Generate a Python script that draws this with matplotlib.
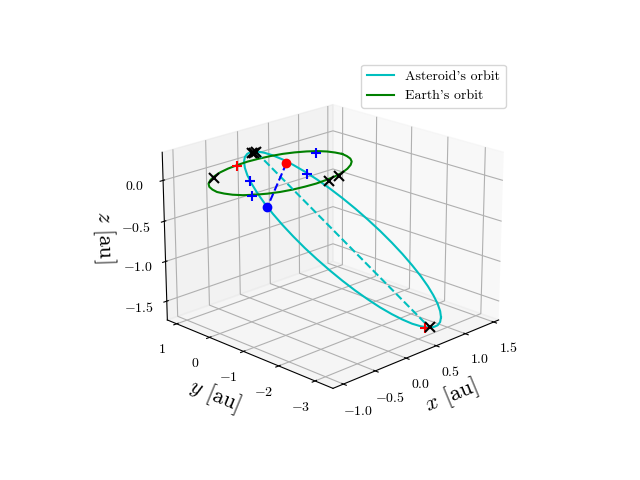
# asteroid and earth orbits in 3d
import matplotlib
matplotlib.use('Agg')
import matplotlib.pyplot as plt

plt.rcParams['font.family'] = ['cmr10', 'DejaVu Sans']
plt.rcParams['mathtext.fontset'] = 'cm'
plt.rcParams['axes.formatter.use_mathtext'] = True

earth_x = [1.0, 0.98, 0.94, 0.87, 0.77, 0.64, 0.5, 0.34, 0.17, 0.0, -0.17, -0.34, -0.5, -0.64, -0.77, -0.87, -0.94, -0.98, -1.0, -0.98, -0.94, -0.87, -0.77, -0.64, -0.5, -0.34, -0.17, 0.0, 0.17, 0.34, 0.5, 0.64, 0.77, 0.87, 0.94, 0.98, 1.0]
earth_y = [0.0, 0.17, 0.34, 0.5, 0.64, 0.77, 0.87, 0.94, 0.98, 1.0, 0.98, 0.94, 0.87, 0.77, 0.64, 0.5, 0.34, 0.17, 0.0, -0.17, -0.34, -0.5, -0.64, -0.77, -0.87, -0.94, -0.98, -1.0, -0.98, -0.94, -0.87, -0.77, -0.64, -0.5, -0.34, -0.17, 0.0]
earth_z = [0.0] * len(earth_x)

ast_x = [0.934, 0.881, 0.818, 0.746, 0.665, 0.578, 0.485, 0.390, 0.292, 0.194,
         0.098, 0.004, -0.085, -0.168, -0.244, -0.312, -0.369, -0.417, -0.453, -0.477,
         -0.488, -0.487, -0.474, -0.447, -0.409, -0.359, -0.299, -0.229, -0.150, -0.063,
         0.029, 0.126, 0.225, 0.325, 0.424, 0.521, 0.613, 0.700, 0.778, 0.848,
         0.907, 0.955, 0.991, 1.015, 1.025, 1.021, 1.005, 0.976, 0.934]
ast_y = [-2.922, -2.984, -3.016, -3.018, -2.991, -2.935, -2.852, -2.742, -2.608, -2.452,
         -2.276, -2.085, -1.880, -1.666, -1.446, -1.223, -1.001, -0.784, -0.575, -0.377,
         -0.195, -0.031, 0.113, 0.233, 0.328, 0.396, 0.435, 0.445, 0.425, 0.375,
         0.297, 0.191, 0.059, -0.096, -0.273, -0.468, -0.677, -0.898, -1.125, -1.355,
         -1.584, -1.808, -2.023, -2.224, -2.409, -2.573, -2.715, -2.832, -2.922]
ast_z = [-1.607, -1.641, -1.659, -1.660, -1.645, -1.614, -1.569, -1.508, -1.434, -1.349,
         -1.252, -1.147, -1.034, -0.916, -0.795, -0.673, -0.551, -0.431, -0.316, -0.207,
         -0.107, -0.017, 0.062, 0.128, 0.180, 0.218, 0.239, 0.245, 0.234, 0.206,
         0.163, 0.105, 0.032, -0.053, -0.150, -0.257, -0.372, -0.494, -0.619, -0.745,
         -0.871, -0.994, -1.113, -1.223, -1.325, -1.415, -1.493, -1.558, -1.607]

# line of apsides
apse_x = [-0.17, 0.69]
apse_y = [0.41, -2.99]
apse_z = [0.23, -1.65]

# earth to asteroid
link_x = [0.28, -0.47]
link_y = [0.36, -0.45]
link_z = [0.0, -0.25]

cross_x = [0.70, -0.23, -0.20, -0.17, -0.68, 0.18, 0.39]
cross_y = [-2.99, 0.43, 0.42, 0.41, 0.70, -1.05, -0.97]
cross_z = [-1.65, 0.23, 0.23, 0.23, 0.0, 0.0, 0.0]

blue_plus_x = [-0.49, 0.33, -0.81, 0.80]
blue_plus_y = [0.02, -0.14, -0.65, 0.41]
blue_plus_z = [0.01, -0.08, 0.0, 0.0]

red_plus_x = [0.63, -0.20]
red_plus_y = [-2.98, 0.93]
red_plus_z = [-1.64, 0.0]

fig = plt.figure(figsize=(6.4, 4.8))
ax = fig.add_subplot(111, projection='3d', computed_zorder=False)
ax.plot(ast_x, ast_y, ast_z, color='c', label="Asteroid's orbit")
ax.plot(earth_x, earth_y, earth_z, color='g', label="Earth's orbit")
ax.plot(apse_x, apse_y, apse_z, color='c', linestyle='--')
ax.plot(link_x, link_y, link_z, color='b', linestyle='--')
ax.plot(red_plus_x, red_plus_y, red_plus_z, 'r+', ms=7, mew=1.5)
ax.plot(blue_plus_x, blue_plus_y, blue_plus_z, 'b+', ms=7, mew=1.5)
ax.plot([link_x[0]], [link_y[0]], [link_z[0]], 'ro', ms=6)
ax.plot([link_x[1]], [link_y[1]], [link_z[1]], 'bo', ms=6)
ax.plot(cross_x, cross_y, cross_z, 'kx', ms=7, mew=1.5)

ax.view_init(elev=20, azim=-135)
ax.set_xlim(-1.16, 1.59)
ax.set_ylim(-3.48, 1.29)
ax.set_zlim(-1.74, 0.34)
ax.set_xticks([-1.0, -0.5, 0.0, 0.5, 1.0, 1.5])
ax.set_xticklabels(['$-1.0$', '$-0.5$', '$0.0$', '$0.5$', '$1.0$', '$1.5$'])
ax.set_yticks([-3, -2, -1, 0, 1])
ax.set_yticklabels(['$-3$', '$-2$', '$-1$', '$0$', '$1$'])
ax.set_zticks([-1.5, -1.0, -0.5, 0.0])
ax.set_zticklabels(['$-1.5$', '$-1.0$', '$-0.5$', '$0.0$'])
ax.set_xlabel(r'$x$ [au]', fontsize=16)
ax.set_ylabel(r'$y$ [au]', fontsize=16)
ax.set_zlabel(r'$z$ [au]', fontsize=16)
ax.legend()
plt.savefig('out.png', dpi=100)
